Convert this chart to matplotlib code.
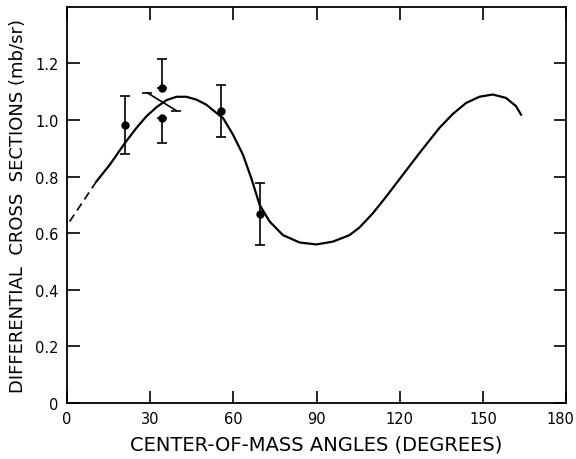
import numpy as np
import matplotlib
matplotlib.use("Agg")
import matplotlib.pyplot as plt
import matplotlib.transforms as mtransforms

# fitted curve (dashed extrapolation + solid part)
dash_x = [1.0, 10.7]
dash_y = [0.641, 0.783]
fit_x = [10.7, 15.5, 20.9, 25.1, 28.7, 32.3, 35.9, 39.5, 43.1, 46.7, 50.3,
         53.9, 56.3, 59.9, 63.5, 66.5, 69.5, 73.1, 77.9, 83.9, 89.9, 95.9,
         101.9, 105.5, 110.3, 115.1, 121.1, 127.1, 134.3, 139.1, 143.9, 148.7,
         153.5, 158.3, 161.9, 163.7]
fit_y = [0.783, 0.842, 0.918, 0.972, 1.013, 1.045, 1.070, 1.082, 1.082, 1.072, 1.054,
         1.025, 1.007, 0.948, 0.877, 0.794, 0.700, 0.641, 0.593, 0.567, 0.560, 0.570,
         0.593, 0.620, 0.670, 0.729, 0.806, 0.883, 0.972, 1.021, 1.060, 1.082,
         1.090, 1.078, 1.049, 1.019]

# data points with error bars
pt_x = [20.9, 34.4, 34.4, 55.6, 69.6]
pt_y = [0.983, 1.113, 1.007, 1.033, 0.668]
err_lo = [0.104, 0.0, 0.090, 0.093, 0.109]
err_hi = [0.103, 0.101, 0.0, 0.092, 0.109]

# tilted error bar near 35 degrees
tilt_x = [29.0, 39.5]
tilt_y = [1.096, 1.033]

fig = plt.figure(figsize=(5.76, 4.6), dpi=100)
ax = fig.add_axes([0.116, 0.122, 0.867, 0.861])

ax.plot(dash_x, dash_y, color="black", lw=1.2, ls=(0, (5, 3)))
ax.plot(fit_x, fit_y, color="black", lw=1.6, solid_joinstyle="round")

ax.errorbar(pt_x, pt_y, yerr=[err_lo, err_hi], fmt="o", color="black",
            ms=5, elinewidth=1.2, capsize=3.5, capthick=1.2)
ax.plot(tilt_x, tilt_y, color="black", lw=1.2, marker="_", ms=7, mew=1.2)

ax.set_xlim(0, 180)
ax.set_ylim(0, 1.4)
ax.set_xticks([0, 30, 60, 90, 120, 150, 180])
ax.set_yticks([0, 0.2, 0.4, 0.6, 0.8, 1.0, 1.2])
ax.set_yticklabels(["0", "0.2", "0.4", "0.6", "0.8", "1.0", "1.2"])
ax.tick_params(direction="in", length=9, width=1.2, top=True, right=True,
               labelsize=10.5, pad=6)
for s in ax.spines.values():
    s.set_linewidth(1.3)

# nudge the last x label so it stays inside the figure
last = ax.get_xticklabels()[-1]
last.set_transform(last.get_transform() +
                   mtransforms.ScaledTranslation(-4 / 72, 0, fig.dpi_scale_trans))

ax.set_xlabel("CENTER-OF-MASS ANGLES (DEGREES)", fontsize=14, labelpad=6)
ax.set_ylabel("DIFFERENTIAL  CROSS  SECTIONS (mb/sr)", fontsize=13, labelpad=6)

fig.savefig("out.png", dpi=100)
